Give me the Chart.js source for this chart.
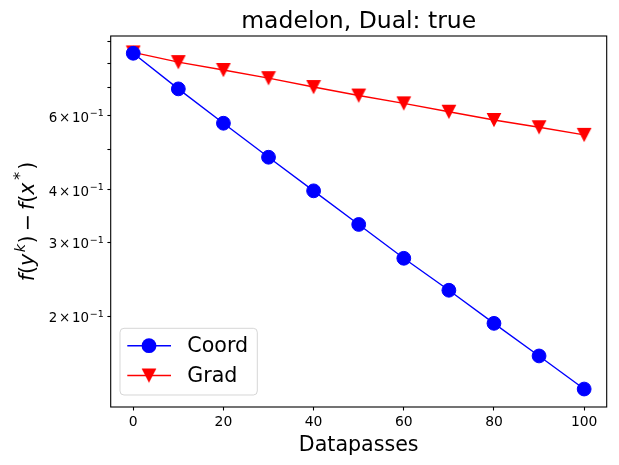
<!DOCTYPE html>
<html><head><meta charset="utf-8">
<script src="https://cdn.jsdelivr.net/npm/chart.js@4.4.0/dist/chart.umd.min.js"></script>
<style>html,body{margin:0;padding:0;background:#fff;overflow:hidden}</style>
</head><body>
<canvas id="c" width="619" height="465" style="width:619px;height:465px;display:block"></canvas>
<script>
// ---- data ----
const datapasses = [0, 10, 20, 30, 40, 50, 60, 70, 80, 90, 100];
const coordValues = [0.846, 0.696, 0.5765, 0.4785, 0.398, 0.331, 0.275, 0.2308, 0.1925, 0.161, 0.1343];
const gradValues = [0.850, 0.806, 0.772, 0.738, 0.703, 0.671, 0.643, 0.614, 0.587, 0.564, 0.541];
const seriesNames = ['Coord', 'Grad'];
const xTickValues = [0, 20, 40, 60, 80, 100];
const yTickValues = [0.2, 0.3, 0.4, 0.5, 0.6, 0.7, 0.8, 0.9];
const yLabelValues = [0.2, 0.3, 0.4, 0.6];
const yLabelMantissas = ['2', '3', '4', '6'];
const titleText = 'madelon, Dual: true';
const xTitle = 'Datapasses';

const FONT = '"DejaVu Sans"';
const BLUE = '#0000ff', RED = '#ff0000';

function triangleCanvas(color) {
  const c = document.createElement('canvas');
  c.width = 16; c.height = 16;
  const g = c.getContext('2d');
  g.fillStyle = color;
  g.beginPath();
  g.moveTo(0.6, 0.9); g.lineTo(15.4, 0.9); g.lineTo(8, 15.3); g.closePath();
  g.fill();
  return c;
}
const triRed = triangleCanvas(RED);

const decor = {
  id: 'decor',
  afterDraw(chart) {
    const ctx = chart.ctx, ca = chart.chartArea;
    const ys = chart.scales.y;
    ctx.save();
    // frame
    ctx.strokeStyle = '#000'; ctx.lineWidth = 1.1;
    ctx.strokeRect(ca.left, ca.top, ca.right - ca.left, ca.bottom - ca.top);
    // title
    ctx.fillStyle = '#000';
    ctx.textAlign = 'center'; ctx.textBaseline = 'alphabetic';
    ctx.font = '23.5px ' + FONT;
    const cx = (ca.left + ca.right) / 2;
    ctx.fillText(titleText, cx, 28);
    // x title
    ctx.font = '20.6px ' + FONT;
    ctx.fillText(xTitle, cx, 451);
    // y tick labels
    yLabelValues.forEach((v, i) => {
      const py = ys.getPixelForValue(v);
      ctx.font = '13.4px ' + FONT;
      const a = yLabelMantissas[i], b = '\u00d7', c = '10';
      const sp = 1.8;
      const wa = ctx.measureText(a).width, wb = ctx.measureText(b).width, wc = ctx.measureText(c).width;
      ctx.font = '9.5px ' + FONT;
      const ws = ctx.measureText('\u22121').width;
      const total = wa + sp + wb + sp + wc + 0.6 + ws;
      let x = ca.left - 3.5 - 3.5 - total;
      const base = py + 6;
      ctx.textAlign = 'left'; ctx.textBaseline = 'alphabetic';
      ctx.font = '13.4px ' + FONT;
      ctx.fillText(a, x, base); x += wa + sp;
      ctx.fillText(b, x, base); x += wb + sp;
      ctx.fillText(c, x, base); x += wc + 0.6;
      ctx.font = '9.5px ' + FONT;
      ctx.fillText('\u22121', x, base - 5.8);
    });
    // y title (mathtext-like)
    const parts = [
      {t: 'f', it: 1}, {t: '('}, {t: 'y', it: 1}, {t: 'k', it: 1, sup: 1, pre: 1.5}, {t: ')', pre: 0.5},
      {t: '\u2009\u2212\u2009'}, {t: 'f', it: 1}, {t: '('}, {t: 'x', it: 1}, {t: '*', sup: 1, pre: 2.5, big: 1}, {t: ')', pre: 2}
    ];
    const fs = 20.6;
    const fontFor = p => (p.it ? 'italic ' : '') + (p.sup ? fs * (p.big ? 0.8 : 0.7) : fs) + 'px ' + FONT;
    let tw = 0;
    parts.forEach(p => { ctx.font = fontFor(p); p.w = ctx.measureText(p.t).width; tw += p.w + (p.pre || 0); });
    ctx.translate(33.5, (ca.top + ca.bottom) / 2);
    ctx.rotate(-Math.PI / 2);
    let x = -tw / 2;
    ctx.textAlign = 'left'; ctx.textBaseline = 'alphabetic';
    parts.forEach(p => {
      ctx.font = fontFor(p);
      x += (p.pre || 0);
      ctx.fillText(p.t, x, p.sup ? -8.5 : 0);
      x += p.w;
    });
    ctx.restore();

    // legend
    ctx.save();
    const lx = 120, ly = 328.3, lw = 137.3, lh = 66.7, r = 4;
    ctx.beginPath();
    ctx.moveTo(lx + r, ly); ctx.lineTo(lx + lw - r, ly); ctx.quadraticCurveTo(lx + lw, ly, lx + lw, ly + r);
    ctx.lineTo(lx + lw, ly + lh - r); ctx.quadraticCurveTo(lx + lw, ly + lh, lx + lw - r, ly + lh);
    ctx.lineTo(lx + r, ly + lh); ctx.quadraticCurveTo(lx, ly + lh, lx, ly + lh - r);
    ctx.lineTo(lx, ly + r); ctx.quadraticCurveTo(lx, ly, lx + r, ly);
    ctx.closePath();
    ctx.fillStyle = 'rgba(255,255,255,0.8)'; ctx.fill();
    ctx.strokeStyle = 'rgba(204,204,204,0.8)'; ctx.lineWidth = 1; ctx.stroke();
    const rows = [345.7, 375.5];
    const cols = [BLUE, RED];
    rows.forEach((ry, i) => {
      ctx.strokeStyle = cols[i]; ctx.lineWidth = 1.4;
      ctx.beginPath(); ctx.moveTo(127.3, ry); ctx.lineTo(171, ry); ctx.stroke();
      if (i === 0) {
        ctx.fillStyle = BLUE; ctx.beginPath(); ctx.arc(149, ry, 7.4, 0, Math.PI * 2); ctx.fill();
      } else {
        ctx.drawImage(triRed, 149 - 8, ry - 8);
      }
      ctx.fillStyle = '#000'; ctx.font = '20.6px ' + FONT;
      ctx.textAlign = 'left'; ctx.textBaseline = 'middle';
      ctx.fillText(seriesNames[i], 187.3, ry + 1);
    });
    ctx.restore();
  }
};

new Chart(document.getElementById('c'), {
  type: 'line',
  data: {
    datasets: [
      {
        label: seriesNames[0],
        data: datapasses.map((x, i) => ({x, y: coordValues[i]})),
        borderColor: BLUE, backgroundColor: BLUE, borderWidth: 1.4,
        pointStyle: 'circle', pointRadius: 6.9, pointBorderWidth: 1, pointBorderColor: BLUE,
        pointBackgroundColor: BLUE, tension: 0, fill: false
      },
      {
        label: seriesNames[1],
        data: datapasses.map((x, i) => ({x, y: gradValues[i]})),
        borderColor: RED, backgroundColor: RED, borderWidth: 1.4,
        pointStyle: triRed, pointRadius: 7, tension: 0, fill: false
      }
    ]
  },
  options: {
    responsive: false, animation: false, devicePixelRatio: 1,
    layout: {padding: {left: 0, right: 12.3, top: 36, bottom: 0}},
    plugins: {legend: {display: false}, title: {display: false}, tooltip: {enabled: false}},
    scales: {
      x: {
        type: 'linear', min: -5, max: 105,
        afterBuildTicks: s => { s.ticks = xTickValues.map(v => ({value: v})); },
        afterFit: s => { s.height = 58; },
        grid: {drawOnChartArea: false, drawTicks: true, tickLength: 3.5, tickColor: '#000', tickWidth: 1.1},
        border: {display: false},
        ticks: {color: '#000', font: {family: 'DejaVu Sans', size: 13.9}, padding: 4, maxRotation: 0}
      },
      y: {
        type: 'logarithmic', min: 0.1217, max: 0.930,
        afterBuildTicks: s => { s.ticks = yTickValues.map(v => ({value: v})); },
        afterFit: s => { s.width = 110.7; },
        grid: {drawOnChartArea: false, drawTicks: true, tickLength: 3.3, tickColor: '#000', tickWidth: 1.1},
        border: {display: false},
        ticks: {callback: () => '', padding: 0}
      }
    }
  },
  plugins: [decor]
});
</script>
</body></html>
